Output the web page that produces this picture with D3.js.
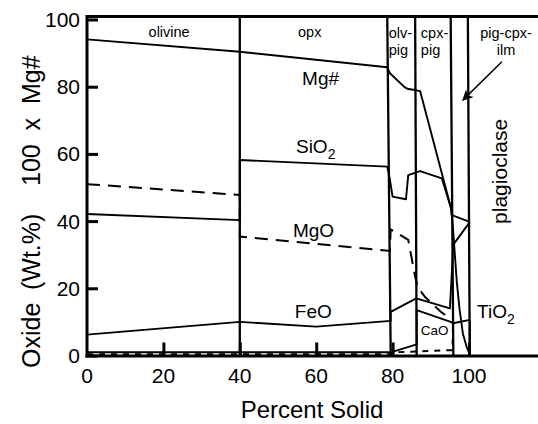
<!DOCTYPE html>
<html><head><meta charset="utf-8">
<script src="https://cdn.jsdelivr.net/npm/d3@7"></script>
<style>body{margin:0;background:#fff}svg text{font-family:"Liberation Sans",Arial,sans-serif;fill:#000}</style>
</head><body>
<svg id="chart" width="538" height="424"></svg>
<script>
// ---- data ----
const xTicks = [0, 20, 40, 60, 80, 100];
const yTicks = [0, 20, 40, 60, 80, 100];
const fieldBoundaries = [
  [[40, 0], [40, 100]],
  [[79.5, 0], [78.6, 100]],
  [[86.3, 0], [85.9, 100]],
  [[95.9, 0], [95.2, 100]],
  [[100.2, 0], [99.7, 100]]
];
const mgNumber = [[0,94.1],[40,90.4],[78.6,85.8],[79.3,84.0],[83.2,79.8],[84.1,79.3],[85.9,79.0],[87.2,78.7],[95.3,43.8],[95.8,38],[96.3,30],[96.8,22],[97.5,14],[98.4,6.5],[99.4,2.5],[100.2,0.5]];
const sio2 = [[0,42.1],[40,40.3],[40,58.2],[78.6,56.2],[79.2,53],[80.0,47.3],[83.5,46.5],[84.1,53.7],[87.2,54.9],[92.9,52.7],[95.3,43.8],[95.5,41.8],[100.2,39.8]];
const mgo = [[0,51.0],[40,47.8],[40,35.4],[79.3,31.1],[79.5,37.5],[81.2,36.4],[84.1,34.4],[85.9,23.4],[86.6,20.3],[88.5,17.4],[92.6,13.0],[94.6,11.4]];
const feo = [[0,6.2],[40,10.0],[60,8.6],[79.5,10.3],[79.5,13.0],[86.2,17.0],[95.0,14.0],[95.9,33.0],[100.2,39.7]];
const cao = [[0,0.95],[79.5,0.95],[86.3,3.3],[86.3,13.5],[95.2,10.0],[95.8,9.6],[100.2,10.6],[100.2,0]];
const tio2 = [[0,0.35],[79.5,0.35],[80.2,0.95],[95.7,1.6],[95.8,9.4]];
const arrowLine = [[108.6,87.4],[98.4,76.0]];
const yTitleParts = ["Oxide", "(Wt.%)", "100  x  Mg#"];
const fieldLabels = [
  {lines:["olivine"], x:21.5, y:94.7, anchor:"middle"},
  {lines:["opx"], x:58.3, y:94.7, anchor:"middle"},
  {lines:["olv-","pig"], x:79.0, y:94.4, anchor:"start"},
  {lines:["cpx-","pig"], x:87.4, y:94.4, anchor:"start"},
  {lines:["pig-cpx-","ilm"], x:109.7, y:94.4, anchor:"middle"}
];
const seriesLabels = [
  {text:"Mg#", sub:"", x:56.3, y:80.5},
  {text:"SiO", sub:"2", x:54.7, y:60.3},
  {text:"MgO", sub:"", x:53.9, y:35.3},
  {text:"FeO", sub:"", x:54.4, y:11.2},
  {text:"TiO", sub:"2", x:102.1, y:11.2}
];

// ---- scales ----
const svg = d3.select("#chart");
const x = d3.scaleLinear().domain([0, 100]).range([87, 469]);
const y = d3.scaleLinear().domain([0, 100]).range([355.5, 19.5]);
const line = d3.line().x(d => x(d[0])).y(d => y(d[1]));

// frame / axes
const xEnd = 540;
svg.append("line").attr("x1", x(0)).attr("x2", xEnd).attr("y1", y(100) - 3).attr("y2", y(100) - 3)
  .attr("stroke", "#000").attr("stroke-width", 3);
svg.append("line").attr("x1", x(0) - 1.5).attr("x2", xEnd).attr("y1", y(0) + 0.5).attr("y2", y(0) + 0.5)
  .attr("stroke", "#000").attr("stroke-width", 3.2);
svg.append("line").attr("x1", x(0)).attr("x2", x(0)).attr("y1", y(100) - 4.5).attr("y2", y(0) + 2)
  .attr("stroke", "#000").attr("stroke-width", 3);

// y axis ticks (inward) + labels
const yAxis = d3.axisRight(y).tickValues(yTicks).tickSize(11).tickFormat("");
const gy = svg.append("g").attr("transform", `translate(${x(0)},0)`).call(yAxis);
gy.select(".domain").remove();
gy.selectAll(".tick line").attr("stroke", "#000").attr("stroke-width", 3);
svg.selectAll(".ylab").data(yTicks).join("text").attr("class", "ylab")
  .attr("x", 80).attr("y", d => y(d)).attr("dy", "0.36em")
  .attr("text-anchor", "end").style("font-size", "21px").text(d => d);

// x axis ticks (inward) + labels
const xAxis = d3.axisTop(x).tickValues(xTicks.filter(d => d > 0)).tickSize(13).tickFormat("");
const gx = svg.append("g").attr("transform", `translate(0,${y(0)})`).call(xAxis);
gx.select(".domain").remove();
gx.selectAll(".tick line").attr("stroke", "#000").attr("stroke-width", 3);
svg.selectAll(".xlab").data(xTicks).join("text").attr("class", "xlab")
  .attr("x", d => x(d)).attr("y", 383)
  .attr("text-anchor", "middle").style("font-size", "21px").text(d => d);

// axis titles
svg.append("text").attr("x", 312).attr("y", 418).attr("text-anchor", "middle")
  .style("font-size", "24px").text("Percent Solid");
const yt = svg.append("text").attr("transform", "rotate(-90)")
  .attr("y", 40).style("font-size", "25px").style("white-space", "pre");
const yTitlePos = [368, 290, 186];
yTitleParts.forEach((p, i) => yt.append("tspan").attr("x", -yTitlePos[i]).text(p));

// field boundaries
svg.selectAll(".bound").data(fieldBoundaries).join("line").attr("class", "bound")
  .attr("x1", d => x(d[0][0])).attr("y1", y(0))
  .attr("x2", d => x(d[1][0])).attr("y2", y(100) - 3)
  .attr("stroke", "#000").attr("stroke-width", 2.3);

// series
const solid = [mgNumber, sio2, feo, cao];
svg.selectAll(".sol").data(solid).join("path").attr("class", "sol")
  .attr("d", line).attr("fill", "none").attr("stroke", "#000")
  .attr("stroke-width", 1.9).attr("stroke-linejoin", "round");
svg.append("path").attr("d", line(mgo)).attr("fill", "none").attr("stroke", "#000")
  .attr("stroke-width", 2).attr("stroke-dasharray", "13,8");
svg.append("path").attr("d", line(tio2)).attr("fill", "none").attr("stroke", "#000")
  .attr("stroke-width", 2).attr("stroke-dasharray", "6,6");

// arrow
svg.append("defs").append("marker").attr("id", "ah").attr("viewBox", "0 0 10 10")
  .attr("refX", 9).attr("refY", 5).attr("markerWidth", 15).attr("markerHeight", 11)
  .attr("markerUnits", "userSpaceOnUse").attr("orient", "auto")
  .append("path").attr("d", "M0,0 L10,5 L0,10 L3,5 Z").attr("fill", "#000");
svg.append("path").attr("d", line(arrowLine)).attr("stroke", "#000").attr("stroke-width", 1.5)
  .attr("fill", "none").attr("marker-end", "url(#ah)");

// field labels
fieldLabels.forEach(f => {
  const t = svg.append("text").attr("x", x(f.x)).attr("y", y(f.y))
    .attr("text-anchor", f.anchor).style("font-size", "14.5px");
  f.lines.forEach((l, i) => t.append("tspan").attr("x", x(f.x)).attr("dy", i === 0 ? 0 : 17).text(l));
});
svg.append("text").attr("transform", `translate(${x(109.9)},${y(54.8)}) rotate(-90)`)
  .attr("text-anchor", "middle").style("font-size", "21px").text("plagioclase");

// series labels
seriesLabels.forEach(s => {
  const t = svg.append("text").attr("x", x(s.x)).attr("y", y(s.y)).style("font-size", "19px");
  t.append("tspan").text(s.text);
  if (s.sub) t.append("tspan").attr("dy", 6).style("font-size", "14px").text(s.sub);
});
svg.append("text").attr("x", x(87.4)).attr("y", y(6.1)).style("font-size", "13.5px").text("CaO");
</script>
</body></html>
